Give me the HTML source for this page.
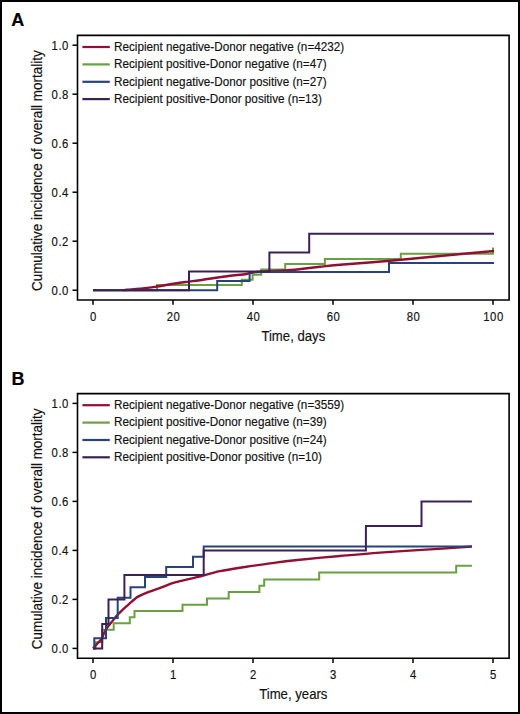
<!DOCTYPE html>
<html><head><meta charset="utf-8"><style>
html,body{margin:0;padding:0;background:#fff;}
svg{display:block;}
text{font-family:"Liberation Sans",sans-serif;fill:#111;stroke:#111;stroke-width:0.15px;}
.tk{font-size:11.3px;letter-spacing:0.5px;}
.lg{font-size:11.5px;}
.ax{font-size:13.3px;}
.pl{font-size:18px;font-weight:bold;fill:#000;stroke:#000;stroke-width:0.2px;}
</style></head><body>
<svg width="520" height="714" viewBox="0 0 520 714">
<rect x="0" y="0" width="520" height="714" fill="#fff"/>
<rect x="1" y="1" width="518" height="712" fill="none" stroke="#000" stroke-width="2"/>
<text class="pl" x="11.3" y="26.4">A</text>
<text class="pl" x="11.6" y="384.5">B</text>
<path d="M77.5,35.4 V300 H509.1 V35.4 Z" fill="none" stroke="#000" stroke-width="1.6"/>
<line x1="72.5" x2="77.5" y1="290.2" y2="290.2" stroke="#000" stroke-width="1.5"/>
<text class="tk" transform="translate(68.8 294.7) scale(1 1.06)" text-anchor="end">0.0</text>
<line x1="72.5" x2="77.5" y1="241.2" y2="241.2" stroke="#000" stroke-width="1.5"/>
<text class="tk" transform="translate(68.8 245.7) scale(1 1.06)" text-anchor="end">0.2</text>
<line x1="72.5" x2="77.5" y1="192.2" y2="192.2" stroke="#000" stroke-width="1.5"/>
<text class="tk" transform="translate(68.8 196.7) scale(1 1.06)" text-anchor="end">0.4</text>
<line x1="72.5" x2="77.5" y1="143.2" y2="143.2" stroke="#000" stroke-width="1.5"/>
<text class="tk" transform="translate(68.8 147.7) scale(1 1.06)" text-anchor="end">0.6</text>
<line x1="72.5" x2="77.5" y1="94.2" y2="94.2" stroke="#000" stroke-width="1.5"/>
<text class="tk" transform="translate(68.8 98.7) scale(1 1.06)" text-anchor="end">0.8</text>
<line x1="72.5" x2="77.5" y1="45.2" y2="45.2" stroke="#000" stroke-width="1.5"/>
<text class="tk" transform="translate(68.8 49.7) scale(1 1.06)" text-anchor="end">1.0</text>
<line x1="93" x2="93" y1="300" y2="304.8" stroke="#000" stroke-width="1.5"/>
<text class="tk" transform="translate(93.5 320.7) scale(1 1.06)" text-anchor="middle">0</text>
<line x1="173" x2="173" y1="300" y2="304.8" stroke="#000" stroke-width="1.5"/>
<text class="tk" transform="translate(173.5 320.7) scale(1 1.06)" text-anchor="middle">20</text>
<line x1="253" x2="253" y1="300" y2="304.8" stroke="#000" stroke-width="1.5"/>
<text class="tk" transform="translate(253.5 320.7) scale(1 1.06)" text-anchor="middle">40</text>
<line x1="333" x2="333" y1="300" y2="304.8" stroke="#000" stroke-width="1.5"/>
<text class="tk" transform="translate(333.5 320.7) scale(1 1.06)" text-anchor="middle">60</text>
<line x1="413" x2="413" y1="300" y2="304.8" stroke="#000" stroke-width="1.5"/>
<text class="tk" transform="translate(413.5 320.7) scale(1 1.06)" text-anchor="middle">80</text>
<line x1="493" x2="493" y1="300" y2="304.8" stroke="#000" stroke-width="1.5"/>
<text class="tk" transform="translate(493.5 320.7) scale(1 1.06)" text-anchor="middle">100</text>
<text class="ax" transform="translate(293.3 340.8) scale(0.99 1.16)" text-anchor="middle">Time, days</text>
<text class="ax" transform="translate(41.9,170.7) rotate(-90) scale(1.012 1.16)" text-anchor="middle">Cumulative incidence of overall mortality</text>
<line x1="82.4" x2="109.8" y1="47" y2="47" stroke="#930e33" stroke-width="2.2"/>
<text class="lg" transform="translate(114 50.9) scale(1.019 1.1)">Recipient negative-Donor negative (n=4232)</text>
<line x1="82.4" x2="109.8" y1="64.4" y2="64.4" stroke="#69a041" stroke-width="2.2"/>
<text class="lg" transform="translate(114 68.2) scale(1.019 1.1)">Recipient positive-Donor negative (n=47)</text>
<line x1="82.4" x2="109.8" y1="81.8" y2="81.8" stroke="#28437a" stroke-width="2.2"/>
<text class="lg" transform="translate(114 85.7) scale(1.019 1.1)">Recipient negative-Donor positive (n=27)</text>
<line x1="82.4" x2="109.8" y1="99.1" y2="99.1" stroke="#3b2156" stroke-width="2.2"/>
<text class="lg" transform="translate(114 103) scale(1.019 1.1)">Recipient positive-Donor positive (n=13)</text>
<path d="M93,290.2 L157,290.2 L157,285 L241.8,285 L241.8,279.8 L252.6,279.8 L252.6,274.7 L261.2,274.7 L261.2,269.4 L285.2,269.4 L285.2,264.1 L324.9,264.1 L324.9,259 L400.8,259 L400.8,253.8 L493,253.8 L493,248.6 L494,248.6" fill="none" stroke="#69a041" stroke-width="2"/>
<path d="M123,290.2 C123.67,290.12 124.17,289.97 127,289.7 C129.83,289.43 135.33,289.07 140,288.6 C144.67,288.13 149.17,287.75 155,286.9 C160.83,286.05 169.33,284.38 175,283.5 C180.67,282.62 184.83,282.15 189,281.6 C193.17,281.05 193.17,281.17 200,280.2 C206.83,279.23 222.5,276.8 230,275.8 C237.5,274.8 241.67,274.67 245,274.2 C248.33,273.73 247.5,273.42 250,273 C252.5,272.58 256.33,272.05 260,271.7 C263.67,271.35 267.83,271.12 272,270.9 C276.17,270.68 281.17,270.6 285,270.4 C288.83,270.2 289.17,270.3 295,269.7 C300.83,269.1 312.5,267.62 320,266.8 C327.5,265.98 328.33,265.82 340,264.8 C351.67,263.78 373.33,262.17 390,260.7 C406.67,259.23 422.67,257.62 440,256 C457.33,254.38 485,251.83 494,251" fill="none" stroke="#930e33" stroke-width="2.4" stroke-linejoin="round"/>
<path d="M93,290.2 L217.2,290.2 L217.2,281.1 L249.6,281.1 L249.6,272.1 L389,272.1 L389,263 L494,263" fill="none" stroke="#28437a" stroke-width="2"/>
<path d="M93,290.2 L189,290.2 L189,271.4 L269.4,271.4 L269.4,252.5 L309.2,252.5 L309.2,233.7 L494,233.7" fill="none" stroke="#3b2156" stroke-width="2"/>
<path d="M77.5,393.6 V658.2 H509.1 V393.6 Z" fill="none" stroke="#000" stroke-width="1.6"/>
<line x1="72.5" x2="77.5" y1="648.4" y2="648.4" stroke="#000" stroke-width="1.5"/>
<text class="tk" transform="translate(68.8 652.9) scale(1 1.06)" text-anchor="end">0.0</text>
<line x1="72.5" x2="77.5" y1="599.4" y2="599.4" stroke="#000" stroke-width="1.5"/>
<text class="tk" transform="translate(68.8 603.9) scale(1 1.06)" text-anchor="end">0.2</text>
<line x1="72.5" x2="77.5" y1="550.4" y2="550.4" stroke="#000" stroke-width="1.5"/>
<text class="tk" transform="translate(68.8 554.9) scale(1 1.06)" text-anchor="end">0.4</text>
<line x1="72.5" x2="77.5" y1="501.4" y2="501.4" stroke="#000" stroke-width="1.5"/>
<text class="tk" transform="translate(68.8 505.9) scale(1 1.06)" text-anchor="end">0.6</text>
<line x1="72.5" x2="77.5" y1="452.4" y2="452.4" stroke="#000" stroke-width="1.5"/>
<text class="tk" transform="translate(68.8 456.9) scale(1 1.06)" text-anchor="end">0.8</text>
<line x1="72.5" x2="77.5" y1="403.4" y2="403.4" stroke="#000" stroke-width="1.5"/>
<text class="tk" transform="translate(68.8 407.9) scale(1 1.06)" text-anchor="end">1.0</text>
<line x1="93" x2="93" y1="658.2" y2="663" stroke="#000" stroke-width="1.5"/>
<text class="tk" transform="translate(93.5 678.9) scale(1 1.06)" text-anchor="middle">0</text>
<line x1="173" x2="173" y1="658.2" y2="663" stroke="#000" stroke-width="1.5"/>
<text class="tk" transform="translate(173.5 678.9) scale(1 1.06)" text-anchor="middle">1</text>
<line x1="253" x2="253" y1="658.2" y2="663" stroke="#000" stroke-width="1.5"/>
<text class="tk" transform="translate(253.5 678.9) scale(1 1.06)" text-anchor="middle">2</text>
<line x1="333" x2="333" y1="658.2" y2="663" stroke="#000" stroke-width="1.5"/>
<text class="tk" transform="translate(333.5 678.9) scale(1 1.06)" text-anchor="middle">3</text>
<line x1="413" x2="413" y1="658.2" y2="663" stroke="#000" stroke-width="1.5"/>
<text class="tk" transform="translate(413.5 678.9) scale(1 1.06)" text-anchor="middle">4</text>
<line x1="493" x2="493" y1="658.2" y2="663" stroke="#000" stroke-width="1.5"/>
<text class="tk" transform="translate(493.5 678.9) scale(1 1.06)" text-anchor="middle">5</text>
<text class="ax" transform="translate(293.3 699) scale(0.99 1.16)" text-anchor="middle">Time, years</text>
<text class="ax" transform="translate(41.9,528.9) rotate(-90) scale(1.012 1.16)" text-anchor="middle">Cumulative incidence of overall mortality</text>
<line x1="82.4" x2="109.8" y1="405.2" y2="405.2" stroke="#930e33" stroke-width="2.2"/>
<text class="lg" transform="translate(114 409.1) scale(1.019 1.1)">Recipient negative-Donor negative (n=3559)</text>
<line x1="82.4" x2="109.8" y1="422.6" y2="422.6" stroke="#69a041" stroke-width="2.2"/>
<text class="lg" transform="translate(114 426.4) scale(1.019 1.1)">Recipient positive-Donor negative (n=39)</text>
<line x1="82.4" x2="109.8" y1="440" y2="440" stroke="#28437a" stroke-width="2.2"/>
<text class="lg" transform="translate(114 443.9) scale(1.019 1.1)">Recipient negative-Donor positive (n=24)</text>
<line x1="82.4" x2="109.8" y1="457.3" y2="457.3" stroke="#3b2156" stroke-width="2.2"/>
<text class="lg" transform="translate(114 461.2) scale(1.019 1.1)">Recipient positive-Donor positive (n=10)</text>
<path d="M93,648.5 L95.5,648.5 L95.5,642.2 L102.2,642.2 L102.2,629.7 L113.7,629.7 L113.7,623.3 L129.8,623.3 L129.8,617.2 L134.5,617.2 L134.5,610.9 L182.5,610.9 L182.5,604.7 L207,604.7 L207,598.4 L228.7,598.4 L228.7,592.1 L259.4,592.1 L259.4,585.8 L264.2,585.8 L264.2,579.6 L319.2,579.6 L319.2,572.6 L456.2,572.6 L456.2,565.7 L471.9,565.7" fill="none" stroke="#69a041" stroke-width="2"/>
<path d="M93,648.5 C93.67,647.75 95.58,645.58 97,644 C98.42,642.42 100.23,641 101.5,639 C102.77,637 103.57,634.02 104.6,632 C105.63,629.98 106.55,628.52 107.7,626.9 C108.85,625.28 110.22,623.92 111.5,622.3 C112.78,620.68 114.12,618.73 115.4,617.2 C116.68,615.67 117.92,614.42 119.2,613.1 C120.48,611.78 121.82,610.5 123.1,609.3 C124.38,608.1 125.62,607.05 126.9,605.9 C128.18,604.75 129.52,603.52 130.8,602.4 C132.08,601.28 133.32,600.2 134.6,599.2 C135.88,598.2 136.13,597.62 138.5,596.4 C140.87,595.18 145.28,593.28 148.8,591.9 C152.32,590.52 155.23,589.68 159.6,588.1 C163.97,586.52 168.78,584.22 175,582.4 C181.22,580.58 189.4,579.07 196.9,577.2 C204.4,575.33 211.98,572.9 220,571.2 C228.02,569.5 236.67,568.3 245,567 C253.33,565.7 261.67,564.53 270,563.4 C278.33,562.27 283.33,561.43 295,560.2 C306.67,558.97 325.83,557.27 340,556 C354.17,554.73 365,553.7 380,552.6 C395,551.5 414.68,550.42 430,549.4 C445.32,548.38 464.92,546.98 471.9,546.5" fill="none" stroke="#930e33" stroke-width="2.4" stroke-linejoin="round"/>
<path d="M93,648.5 L94.3,648.5 L94.3,638.3 L106,638.3 L106,618.1 L117.7,618.1 L117.7,597.7 L130.5,597.7 L130.5,587.3 L145,587.3 L145,577.1 L166.2,577.1 L166.2,566.9 L193,566.9 L193,556.7 L203.7,556.7 L203.7,546.5 L471.9,546.5" fill="none" stroke="#28437a" stroke-width="2"/>
<path d="M93,648.5 L102.2,648.5 L102.2,624 L108.5,624 L108.5,599.5 L124.4,599.5 L124.4,575 L203.7,575 L203.7,550.6 L365.9,550.6 L365.9,526.1 L421.5,526.1 L421.5,501.6 L471.9,501.6" fill="none" stroke="#3b2156" stroke-width="2"/>
</svg>
</body></html>
